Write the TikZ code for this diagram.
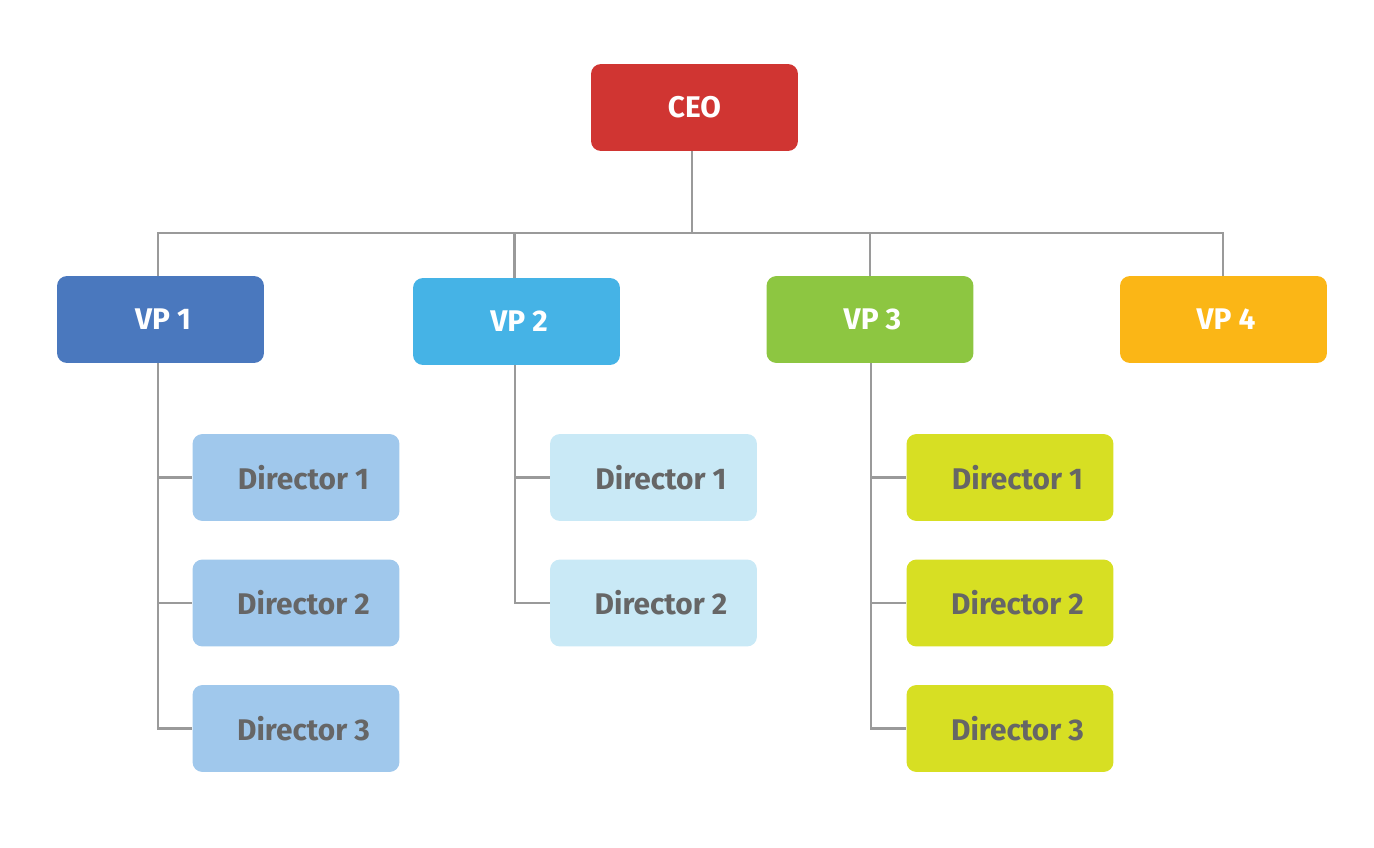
\documentclass[tikz,border=0pt]{standalone}
\usepackage{fontspec}
\setmainfont{Fira Sans}
\usepackage{tikz}

\definecolor{ceored}{HTML}{D03532}
\definecolor{vpone}{HTML}{4A78BE}
\definecolor{vptwo}{HTML}{45B3E6}
\definecolor{vpthree}{HTML}{8DC641}
\definecolor{vpfour}{HTML}{FBB616}
\definecolor{dirone}{HTML}{A0C8EC}
\definecolor{dirtwo}{HTML}{C9E9F6}
\definecolor{dirthree}{HTML}{D7DF23}
\definecolor{dirtext}{HTML}{666666}
\definecolor{wire}{HTML}{9A9A9A}

\tikzset{
  box/.style = {rectangle, rounded corners = 0.2cm, minimum width = 4.14cm,
                minimum height = 1.74cm, font = \fontsize{17}{20}\selectfont\bfseries},
  boss/.style = {box, fill = #1, text = white},
  director/.style = {box, fill = #1, text = dirtext},
  wired/.style = {draw = wire, line width = 1.3pt}
}

\begin{document}
\begin{tikzpicture}[x=0.02cm, y=-0.02cm]
    \useasboundingbox (0,0) rectangle (1374,848);

    % top of the tree
    \node[boss = ceored] (ceo) at (694.5,107.5) {CEO};

    % vice presidents
    \node[boss = vpone]   (vp1) at (160.5,319.5)  {\hspace*{0.1cm}VP 1};
    \node[boss = vptwo]   (vp2) at (516.5,321.5)  {\hspace*{0.1cm}VP 2};
    \node[boss = vpthree] (vp3) at (870,319.5)    {\hspace*{0.1cm}VP 3};
    \node[boss = vpfour]  (vp4) at (1223.5,319.5) {\hspace*{0.1cm}VP 4};

    % directors
    \node[director = dirone] (d11) at (296,477.5) {\hspace*{0.3cm}Director 1};
    \node[director = dirone] (d12) at (296,603)   {\hspace*{0.3cm}Director 2};
    \node[director = dirone] (d13) at (296,728.5) {\hspace*{0.3cm}Director 3};
    \node[director = dirtwo] (d21) at (653.5,477.5) {\hspace*{0.3cm}Director 1};
    \node[director = dirtwo] (d22) at (653.5,603)   {\hspace*{0.3cm}Director 2};
    \node[director = dirthree] (d31) at (1010,477.5) {\hspace*{0.3cm}Director 1};
    \node[director = dirthree] (d32) at (1010,603)   {\hspace*{0.3cm}Director 2};
    \node[director = dirthree] (d33) at (1010,728.5) {\hspace*{0.3cm}Director 3};

    % draw the bus under the CEO
    \coordinate (bus) at (692,233);
    \draw[wired] (ceo.south -| bus) -- (bus);
    \draw[wired] ([xshift=-0.05cm]vp1.north) -- ([xshift=-0.05cm]vp1.north |- bus)
                 -- ([xshift=-0.01cm]vp4.north |- bus) -- ([xshift=-0.01cm]vp4.north);
    \draw[wired] ([xshift=-0.04cm]vp2.north) -- ([xshift=-0.04cm]vp2.north |- bus);
    \draw[wired] (vp3.north) -- (vp3.north |- bus);

    % draw the spines down to the directors
    \draw[wired] ([xshift=-0.05cm]vp1.south) |- (d13.west);
    \draw[wired] ([xshift=-0.05cm]vp1.south |- d11.west) -- (d11.west);
    \draw[wired] ([xshift=-0.05cm]vp1.south |- d12.west) -- (d12.west);
    \draw[wired] ([xshift=-0.03cm]vp2.south) |- (d22.west);
    \draw[wired] ([xshift=-0.03cm]vp2.south |- d21.west) -- (d21.west);
    \draw[wired] ([xshift=0.02cm]vp3.south) |- (d33.west);
    \draw[wired] ([xshift=0.02cm]vp3.south |- d31.west) -- (d31.west);
    \draw[wired] ([xshift=0.02cm]vp3.south |- d32.west) -- (d32.west);
\end{tikzpicture}
\end{document}
